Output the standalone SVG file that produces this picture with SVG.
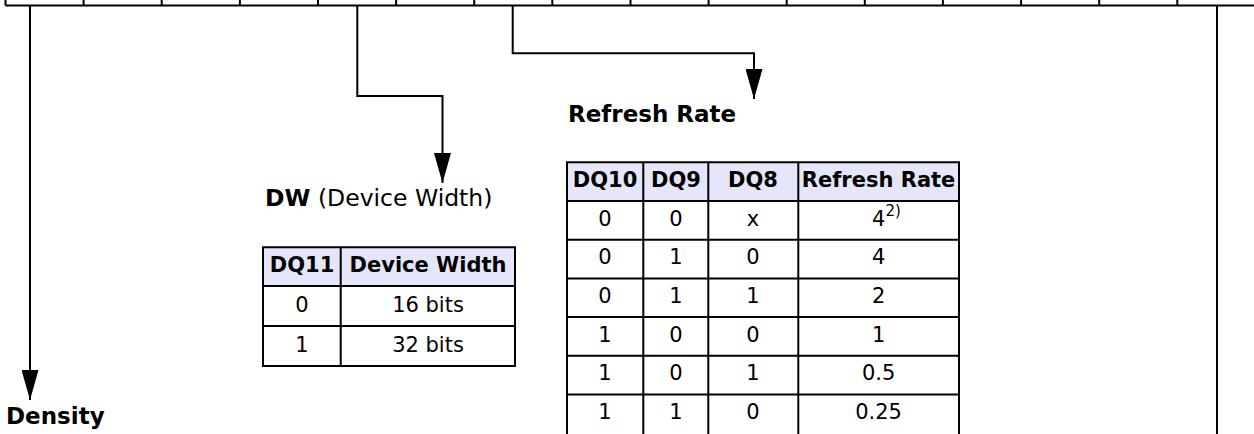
<svg xmlns="http://www.w3.org/2000/svg" width="1254" height="434" viewBox="0 0 1254 434">
<defs>
<marker id="arr" markerUnits="userSpaceOnUse" markerWidth="30" markerHeight="17" viewBox="0 0 30 17" refX="30" refY="8.5" orient="auto">
<path d="M0,0 L30,8.5 L0,17 z" fill="#000"/>
</marker>
<style>
.ln{stroke:#000;stroke-width:2;fill:none}
.t{font-family:"DejaVu Sans",Verdana,sans-serif;fill:#000}
.title{font-size:23px;font-weight:bold}
.hd{font-size:21px;font-weight:bold;text-anchor:middle}
.cell{font-size:21px;text-anchor:middle}
.hfill{fill:#E6E6FA;stroke:none}
</style>
</defs>
<rect width="1254" height="434" fill="#fff"/>
<g id="register">
<path class="ln" d="M5.5,5.5 H1254 M5.5,0 V5.5 M83.6,0 V5.5 M161.7,0 V5.5 M239.9,0 V5.5 M318,0 V5.5 M396.1,0 V5.5 M474.2,0 V5.5 M552.3,0 V5.5 M630.5,0 V5.5 M708.6,0 V5.5 M786.7,0 V5.5 M864.8,0 V5.5 M942.9,0 V5.5 M1021.1,0 V5.5 M1099.2,0 V5.5 M1177.3,0 V5.5"/>
</g>
<g id="connectors">
<path class="ln" d="M30,5.5 V400" marker-end="url(#arr)"/>
<path class="ln" d="M357.3,5.5 V96 H442.5 V183" marker-end="url(#arr)"/>
<path class="ln" d="M512.7,5.5 V53.3 H754 V99" marker-end="url(#arr)"/>
<path class="ln" d="M1217,5.5 V434"/>
</g>
<g id="density">
<text class="t title" x="6" y="424">Density</text>
</g>
<g id="dw">
<text class="t" x="265" y="205.5" font-size="23.5px"><tspan font-weight="bold">DW</tspan> (Device Width)</text>
<rect class="hfill" x="263" y="247.3" width="252" height="38.7"/>
<path class="ln" d="M263,247.3 H515 V366 H263 Z M263,286 H515 M263,326 H515 M340.7,247.3 V366"/>
<text class="t hd" x="302" y="272">DQ11</text>
<text class="t hd" x="428" y="272">Device Width</text>
<text class="t cell" x="302" y="311.5">0</text>
<text class="t cell" x="428" y="311.5">16 bits</text>
<text class="t cell" x="302" y="351.5">1</text>
<text class="t cell" x="428" y="351.5">32 bits</text>
</g>
<g id="refresh">
<text class="t title" x="568" y="121.5">Refresh Rate</text>
<rect class="hfill" x="567" y="162.3" width="392" height="38.7"/>
<path class="ln" d="M567,434 V162.3 H959 V434 M567,201 H959 M567,239.7 H959 M567,278.4 H959 M567,317.1 H959 M567,355.8 H959 M567,394.5 H959 M643.3,162.3 V434 M708.3,162.3 V434 M798.3,162.3 V434"/>
<text class="t hd" x="605" y="187">DQ10</text>
<text class="t hd" x="676" y="187">DQ9</text>
<text class="t hd" x="753" y="187">DQ8</text>
<text class="t hd" x="878.6" y="187">Refresh Rate</text>
<text class="t cell" x="605" y="225.5">0</text>
<text class="t cell" x="676" y="225.5">0</text>
<text class="t cell" x="753" y="225.5">x</text>
<text class="t" font-size="21px" x="872" y="225.5">4<tspan font-size="15px" dy="-10">2)</tspan></text>
<text class="t cell" x="605" y="264.2">0</text>
<text class="t cell" x="676" y="264.2">1</text>
<text class="t cell" x="753" y="264.2">0</text>
<text class="t cell" x="878.6" y="264.2">4</text>
<text class="t cell" x="605" y="302.9">0</text>
<text class="t cell" x="676" y="302.9">1</text>
<text class="t cell" x="753" y="302.9">1</text>
<text class="t cell" x="878.6" y="302.9">2</text>
<text class="t cell" x="605" y="341.6">1</text>
<text class="t cell" x="676" y="341.6">0</text>
<text class="t cell" x="753" y="341.6">0</text>
<text class="t cell" x="878.6" y="341.6">1</text>
<text class="t cell" x="605" y="380.3">1</text>
<text class="t cell" x="676" y="380.3">0</text>
<text class="t cell" x="753" y="380.3">1</text>
<text class="t cell" x="878.6" y="380.3">0.5</text>
<text class="t cell" x="605" y="419">1</text>
<text class="t cell" x="676" y="419">1</text>
<text class="t cell" x="753" y="419">0</text>
<text class="t cell" x="878.6" y="419">0.25</text>
</g>
</svg>
